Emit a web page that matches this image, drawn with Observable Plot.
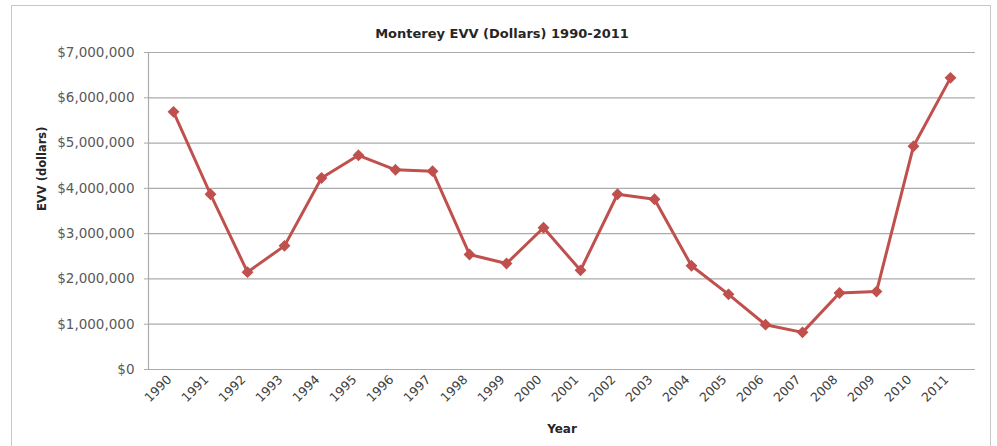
<!DOCTYPE html>
<html>
<head>
<meta charset="utf-8">
<script src="https://cdn.jsdelivr.net/npm/d3@7"></script>
<script src="https://cdn.jsdelivr.net/npm/@observablehq/plot@0.6"></script>
<style>
  html, body { margin: 0; padding: 0; background: #fff; overflow: hidden; }
  #wrap { position: relative; width: 997px; height: 446px; }
  #border { position: absolute; left: 11px; top: 5px; width: 980px; height: 460px; border: 1.5px solid #c8c8c8; box-sizing: border-box; }
  #chart { position: absolute; left: 0; top: 0; }
</style>
</head>
<body>
<div id="wrap"><div id="border"></div><div id="chart"></div></div>
<script>
const years = ["1990","1991","1992","1993","1994","1995","1996","1997","1998","1999","2000","2001","2002","2003","2004","2005","2006","2007","2008","2009","2010","2011"];
const evv = [5690000, 3870000, 2150000, 2730000, 4230000, 4730000, 4410000, 4380000, 2540000, 2340000, 3130000, 2190000, 3870000, 3760000, 2290000, 1660000, 990000, 820000, 1690000, 1720000, 4930000, 6440000];
const yTicks = [0, 1000000, 2000000, 3000000, 4000000, 5000000, 6000000, 7000000];
const title = "Monterey EVV (Dollars) 1990-2011";
const yLabel = "EVV (dollars)";
const xLabel = "Year";

const data = years.map((year, i) => ({year, value: evv[i]}));
const fmt = d => "$" + d3.format(",")(d);
const font = "'DejaVu Sans', sans-serif";

const chart = Plot.plot({
  width: 997,
  height: 446,
  marginLeft: 148,
  marginRight: 22,
  marginTop: 52,
  marginBottom: 77,
  style: {fontFamily: font, background: "transparent", overflow: "visible"},
  x: {type: "point", domain: years, padding: 0.5, label: null},
  y: {domain: [0, 7000000], label: null},
  marks: [
    Plot.ruleY(yTicks, {stroke: "#ababab", strokeWidth: 1.2, strokeOpacity: 1}),
    Plot.frame({anchor: "left", stroke: "#ababab", strokeWidth: 1.2}),
    Plot.axisY({ticks: yTicks, tickFormat: fmt, tickSize: 4, tickPadding: 10, stroke: "#ababab", fill: "#595959", fontSize: 13.5, label: null}),
    Plot.axisX({tickRotate: -45, tickSize: 0, tickPadding: 8, dx: -4, fill: "#404040", fontSize: 12.5, label: null}),
    Plot.line(data, {x: "year", y: "value", stroke: "#c0504d", strokeWidth: 3}),
    Plot.dot(data, {x: "year", y: "value", symbol: "diamond2", r: 4.4, fill: "#c0504d", stroke: "#c0504d"}),
    Plot.text([title], {frameAnchor: "top", dx: -60, dy: -24, fontSize: 13, fontWeight: "bold", fill: "#262626"}),
    Plot.text([yLabel], {frameAnchor: "left", dx: -106, rotate: -90, fontSize: 11.5, fontWeight: "bold", fill: "#262626"}),
    Plot.text([xLabel], {frameAnchor: "bottom", dy: 63, fontSize: 12, fontWeight: "bold", fill: "#262626"})
  ]
});
document.getElementById("chart").appendChild(chart);
</script>
</body>
</html>
